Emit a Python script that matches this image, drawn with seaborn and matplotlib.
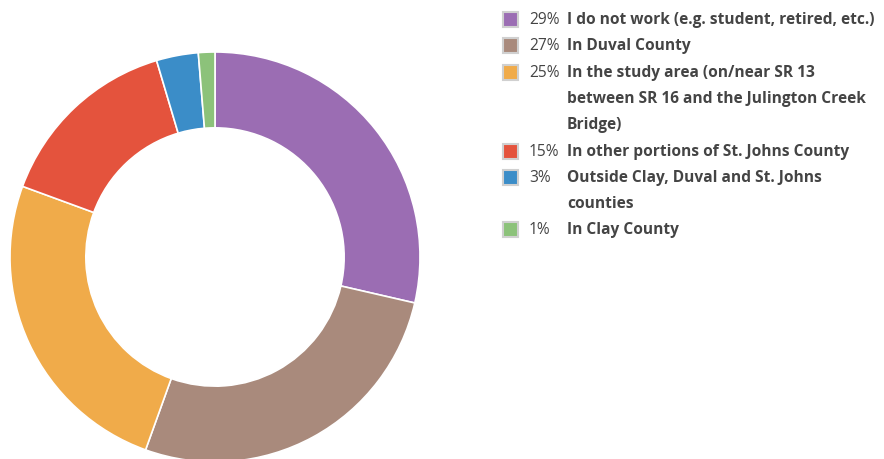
import matplotlib
matplotlib.use("Agg")
import matplotlib.pyplot as plt
import seaborn as sns
from matplotlib.patches import Rectangle

# data (slice shares estimated from the angles,
# legend shows the rounded figures)
labels = [
    "I do not work (e.g. student, retired, etc.)",
    "In Duval County",
    "In the study area (on/near SR 13\nbetween SR 16 and the Julington Creek\nBridge)",
    "In other portions of St. Johns County",
    "Outside Clay, Duval and St. Johns\ncounties",
    "In Clay County",
]
shares = [28.6, 26.9, 25.1, 14.8, 3.3, 1.3]
pct_labels = ["29%", "27%", "25%", "15%", "3%", "1%"]
colors = ["#9b6db3", "#a98a7c", "#f0ab4a", "#e4533d", "#3b8dc8", "#8cc27a"]

sns.set_theme(style="white")
plt.rcParams['font.family'] = ['Open Sans', 'DejaVu Sans']

W, H = 884, 459
fig = plt.figure(figsize=(W / 100, H / 100), dpi=100)
fig.patch.set_facecolor("white")

# donut: center (215, 257) px, outer radius 205 px
cx, cy, r = 215, 257, 205
ax = fig.add_axes([(cx - r) / W, (H - cy - r) / H, 2 * r / W, 2 * r / H])
ax.pie(shares, colors=colors, startangle=90, counterclock=False,
       radius=1.0, wedgeprops=dict(width=0.37, edgecolor="white", linewidth=1.2))
ax.set_xlim(-1, 1)
ax.set_ylim(-1, 1)
ax.set_aspect("equal")
ax.axis("off")

# legend drawn in pixel coordinates
lax = fig.add_axes([0, 0, 1, 1])
lax.set_xlim(0, W)
lax.set_ylim(H, 0)
lax.axis("off")

pitch = 26.3
fs = 11.2
line = 0
for lab, pct, col in zip(labels, pct_labels, colors):
    y = 20 + line * pitch
    lax.add_patch(Rectangle((503, y - 8), 15, 15, facecolor=col,
                            edgecolor="#d0d0d0", linewidth=1.5))
    lax.text(529, y, pct, fontsize=fs, color="#444444", va="center", ha="left")
    for i, part in enumerate(lab.split("\n")):
        lax.text(567, y + i * pitch, part, fontsize=fs, fontweight="bold",
                 color="#444444", va="center", ha="left")
    line += lab.count("\n") + 1

fig.savefig("out.png", dpi=100, facecolor="white")
